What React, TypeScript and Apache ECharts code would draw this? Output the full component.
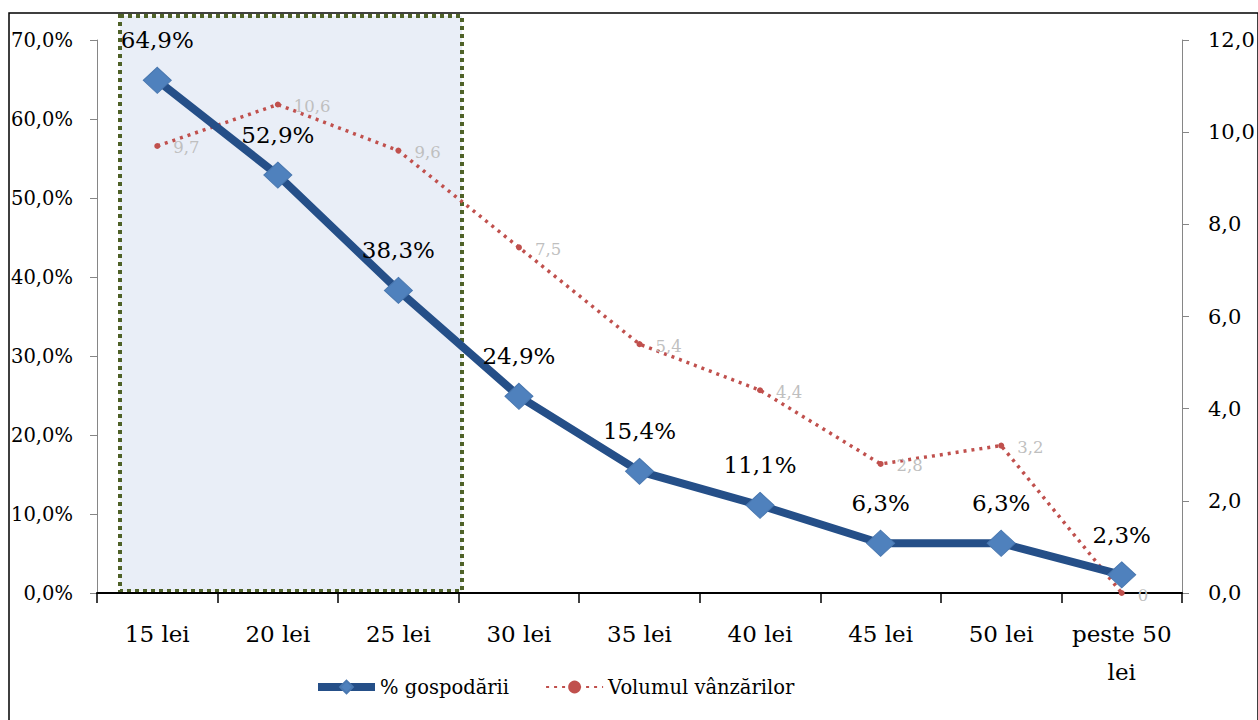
import React, { useEffect, useRef } from "react";
import * as echarts from "echarts";

const categories = ["15 lei", "20 lei", "25 lei", "30 lei", "35 lei", "40 lei", "45 lei", "50 lei", "peste 50\nlei"];
const households = [64.9, 52.9, 38.3, 24.9, 15.4, 11.1, 6.3, 6.3, 2.3];
const salesVolume = [9.7, 10.6, 9.6, 7.5, 5.4, 4.4, 2.8, 3.2, 0];
const seriesNames = ["% gospodării", "Volumul vânzărilor"];

const FONT = "DejaVu Serif";

export default function App() {
  const ref = useRef<HTMLDivElement>(null);
  useEffect(() => {
    document.body.style.margin = "0";
    const chart = echarts.init(ref.current!, null, { renderer: "svg" });
    const fmtPct = (v: number) => v.toFixed(1).replace(".", ",") + "%";
    const fmtNum = (v: number) => v.toFixed(1).replace(".", ",");
    chart.setOption({
      animation: false,
      backgroundColor: "#ffffff",
      textStyle: { fontFamily: FONT },
      grid: { left: 97, right: 76, top: 40, bottom: 127 },
      legend: {
        left: 309,
        top: 672,
        itemWidth: 57,
        itemHeight: 16,
        itemGap: 36,
        textStyle: { fontFamily: FONT, fontSize: 19.5, color: "#000" },
        data: [
          { name: seriesNames[0], lineStyle: { width: 8, color: "#254F88" } },
          { name: seriesNames[1], itemStyle: { color: "#C0504D" } },
        ],
      },
      graphic: [
        {
          type: "rect",
          z: 0,
          shape: { x: 9, y: 13, width: 1249, height: 708 },
          style: { fill: "none", stroke: "#000", lineWidth: 1.5 },
        },
        {
          type: "rect",
          z: 0,
          shape: { x: 120, y: 16, width: 342, height: 575 },
          style: { fill: "#E9EEF7", stroke: "#4F6228", lineWidth: 4, lineDash: [4, 4] },
        },
      ],
      xAxis: {
        type: "category",
        data: categories,
        boundaryGap: true,
        axisLine: { lineStyle: { color: "#000", width: 2 } },
        axisTick: { show: true, length: 10, lineStyle: { color: "#000", width: 1.5 } },
        axisLabel: { fontFamily: FONT, fontSize: 23, color: "#000", margin: 22, lineHeight: 38, interval: 0 },
        z: 3,
      },
      yAxis: [
        {
          type: "value",
          min: 0,
          max: 70,
          interval: 10,
          axisLine: { show: true, lineStyle: { color: "#868686", width: 1 } },
          axisTick: { show: true, length: 7, lineStyle: { color: "#868686" } },
          splitLine: { show: false },
          axisLabel: { fontFamily: FONT, fontSize: 19.5, color: "#000", margin: 24, formatter: fmtPct },
        },
        {
          type: "value",
          min: 0,
          max: 12,
          interval: 2,
          position: "right",
          axisLine: { show: true, lineStyle: { color: "#868686", width: 1 } },
          axisTick: { show: true, length: 7, lineStyle: { color: "#868686" } },
          splitLine: { show: false },
          axisLabel: { fontFamily: FONT, fontSize: 21, color: "#000", margin: 26, formatter: fmtNum },
        },
      ],
      series: [
        {
          name: seriesNames[1],
          type: "line",
          yAxisIndex: 1,
          data: salesVolume,
          z: 3,
          symbol: "circle",
          symbolSize: 6,
          lineStyle: { color: "#C0504D", width: 3.5, type: [3, 5] },
          itemStyle: { color: "#C0504D" },
          label: {
            show: true,
            position: "right",
            distance: 13,
            offset: [0, 2],
            fontFamily: FONT,
            fontSize: 16.5,
            color: "#BFBFBF",
            formatter: (p: any) => (p.value === 0 ? "0" : String(p.value).replace(".", ",")),
          },
        },
        {
          name: seriesNames[0],
          type: "line",
          yAxisIndex: 0,
          data: households,
          z: 4,
          symbol: "diamond",
          symbolSize: [28, 26],
          lineStyle: { color: "#254F88", width: 8 },
          itemStyle: { color: "#4F81BD", borderColor: "#4A78B0", borderWidth: 1 },
          label: {
            show: true,
            position: "top",
            distance: 15,
            fontFamily: FONT,
            fontSize: 23,
            color: "#000",
            formatter: (p: any) => fmtPct(p.value),
          },
        },
      ],
    });
    return () => chart.dispose();
  }, []);
  return <div ref={ref} style={{ width: 1258, height: 720 }} />;
}
